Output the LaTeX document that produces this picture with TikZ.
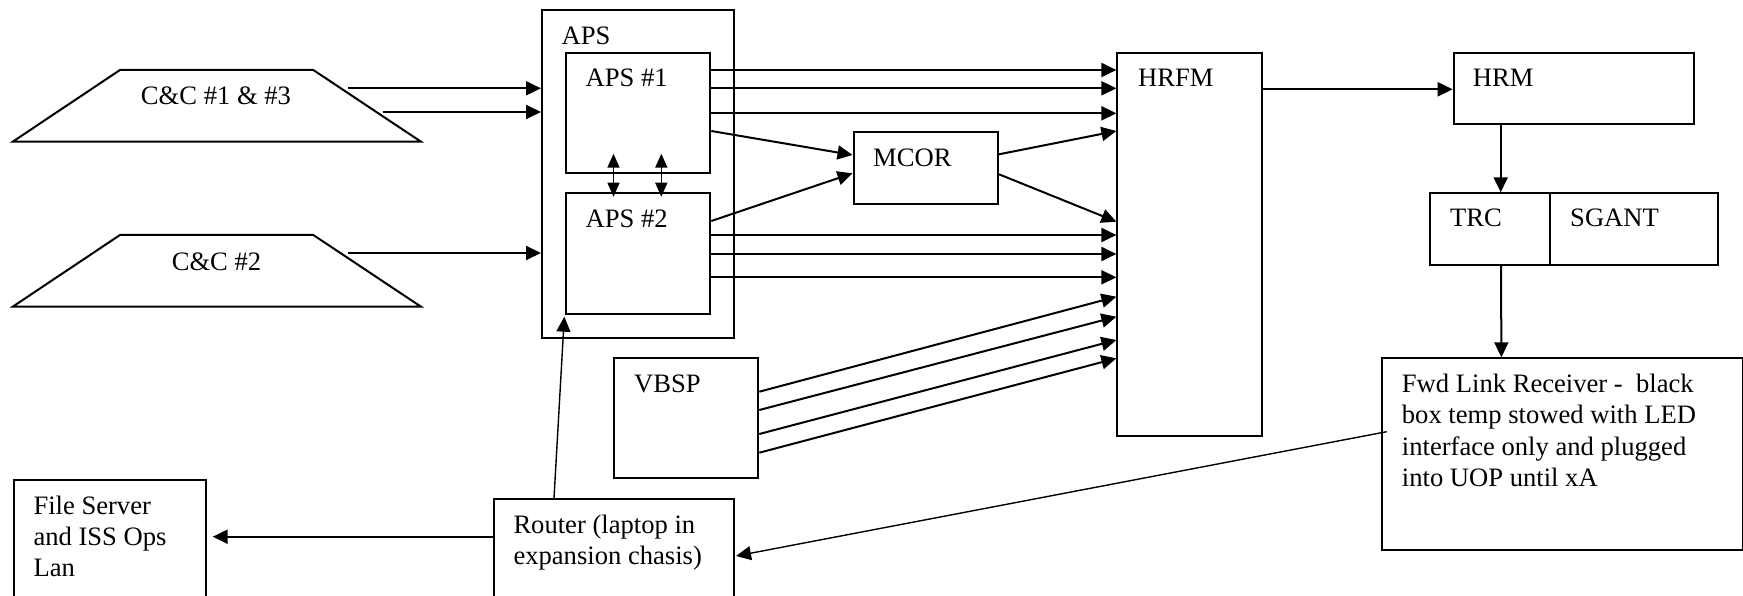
\documentclass[tikz,border=0pt]{standalone}
\usepackage{fontspec}
\setmainfont{Liberation Serif}
\usetikzlibrary{arrows.meta,calc}
\begin{document}
\begin{tikzpicture}[x=1pt,y=-1pt,
  box/.style={draw, line width=2pt, rectangle, inner sep=0pt, anchor=north west},
  txt/.style={inner sep=0pt, anchor=base west, font=\fontsize{26.6}{31.2}\selectfont},
  ctxt/.style={txt, anchor=base},
  arr/.style={line width=2pt, -{Triangle[length=15pt,width=14pt]}},
  thinarr/.style={line width=1.4pt, -{Triangle[length=15pt,width=14pt]}},
  dblarr/.style={line width=1.6pt, {Triangle[length=14pt,width=12pt]}-{Triangle[length=14pt,width=12pt]}},
  trap/.style={draw, line width=2pt, line join=miter}]
\useasboundingbox (0,0) rectangle (1743,596);
\clip (0,0) rectangle (1743,596);

% trapezoids
\draw[trap] (12.7,141.7) coordinate (cc1bl) -- (120,70) -- (313.3,70) -- (421,141.7) coordinate (cc1br) -- cycle;
\draw[trap] (12.7,306.7) coordinate (cc2bl) -- (120,235) -- (313.3,235) -- (421,306.7) coordinate (cc2br) -- cycle;
\node[ctxt] (cc1t) at (216,105) {C\&C \#1 \& \#3};
\node[ctxt] (cc2t) at (216.5,270) {C\&C \#2};
\coordinate (cc1a) at (348.3,88.3);
\coordinate (cc1b) at (383.3,112);
\coordinate (cc2a) at (348.3,253);

% boxes
\node[box, minimum width=192.3pt, minimum height=327.7pt] (apsout) at (541,9) {};
\node[box, minimum width=144.3pt, minimum height=120pt] (aps1) at (565,51.7) {};
\node[box, minimum width=144.3pt, minimum height=120.4pt] (aps2) at (565,192.3) {};
\node[box, minimum width=144.5pt, minimum height=72pt] (mcor) at (852.5,130.7) {};
\node[box, minimum width=144.6pt, minimum height=383.3pt] (hrfm) at (1116.4,51.7) {};
\node[box, minimum width=240pt, minimum height=71pt] (hrm) at (1452.7,51.7) {};
\node[box, minimum width=120.3pt, minimum height=71.7pt] (trc) at (1429,192.3) {};
\node[box, minimum width=167.4pt, minimum height=71.7pt] (sgant) at (1549.3,192.3) {};
\node[box, minimum width=143.9pt, minimum height=119.4pt] (vbsp) at (613.4,357.3) {};
\node[box, minimum width=361pt, minimum height=192pt] (fwd) at (1380.7,357.3) {};
\node[box, minimum width=240.6pt, minimum height=130pt] (router) at (492.7,498.3) {};
\node[box, minimum width=192pt, minimum height=150pt] (files) at (12.7,479.3) {};

% texts
\node[txt] (apst) at (561.4,45) {APS};
\node[txt] (aps1t) at (585.5,86.7) {APS \#1};
\node[txt] (aps2t) at (585.5,227.7) {APS \#2};
\node[txt] (mcort) at (873,166.7) {MCOR};
\node[txt] (hrfmt) at (1138,86.7) {HRFM};
\node[txt] (hrmt) at (1472.7,86.7) {HRM};
\node[txt] (trct) at (1450,226.7) {TRC};
\node[txt] (sgantt) at (1570,226.7) {SGANT};
\node[txt] (vbspt) at (634,392) {VBSP};
\node[txt] (fwdt) at (1401.7,392.7) {\begin{tabular}[t]{@{}l@{}}Fwd Link Receiver -\ \ black\\box temp stowed with LED\\interface only and plugged\\into UOP until xA\end{tabular}};
\node[txt] (routert) at (513.3,533.3) {\begin{tabular}[t]{@{}l@{}}Router (laptop in\\expansion chasis)\end{tabular}};
\node[txt] (filest) at (33.3,514.5) {\begin{tabular}[t]{@{}l@{}}File Server\\and ISS Ops\\Lan\end{tabular}};

% C&C connectors
\draw[arr] (cc1a) -- ($(apsout.north west)+(0,79.3)$);
\draw[arr] (cc1b) -- ($(apsout.north west)+(0,103)$);
\draw[arr] (cc2a) -- ($(apsout.north west)+(0,244)$);

% APS1 <-> APS2
\draw[dblarr] ($(aps1.south west)+(48.5,-20)$) -- ($(aps2.north west)+(48.5,4.4)$);
\draw[dblarr] ($(aps1.south west)+(96.3,-20)$) -- ($(aps2.north west)+(96.3,4.4)$);

% APS1 -> HRFM
\foreach \d in {18.3,36.6,61.6}
  \draw[arr] ($(aps1.north east)+(0,\d)$) -- ($(hrfm.north west)+(0,\d)$);
% APS1/APS2 -> MCOR
\draw[arr] ($(aps1.north east)+(0,79.3)$) -- ($(mcor.north west)+(0,24.3)$);
\draw[arr] ($(aps2.north east)+(0,28.7)$) -- ($(mcor.north west)+(0,42.6)$);
% MCOR -> HRFM
\draw[arr] ($(mcor.north east)+(0,23.6)$) -- ($(hrfm.north west)+(0,79.3)$);
\draw[arr] ($(mcor.north east)+(0,43.6)$) -- ($(hrfm.north west)+(0,170)$);
% APS2 -> HRFM
\draw[arr] ($(aps2.north east)+(0,42.7)$) -- ($(hrfm.north west)+(0,183.3)$);
\draw[arr] ($(aps2.north east)+(0,61.7)$) -- ($(hrfm.north west)+(0,202.3)$);
\draw[arr] ($(aps2.north east)+(0,85)$) -- ($(hrfm.north west)+(0,225.6)$);
% VBSP -> HRFM
\draw[arr] ($(vbsp.north east)+(0,34.4)$) -- ($(hrfm.north west)+(0,245)$);
\draw[arr] ($(vbsp.north east)+(0,52.7)$) -- ($(hrfm.north west)+(0,265)$);
\draw[arr] ($(vbsp.north east)+(0,76.7)$) -- ($(hrfm.north west)+(0,288.3)$);
\draw[arr] ($(vbsp.north east)+(0,95.4)$) -- ($(hrfm.north west)+(0,306.6)$);

% HRFM -> HRM -> TRC -> Fwd
\draw[arr] ($(hrfm.north east)+(0,37.6)$) -- ($(hrm.north west)+(0,37.6)$);
\draw[arr] ($(hrm.south west)+(48,0)$) -- ($(trc.north west)+(71.7,0)$);
\draw[arr] ($(trc.south west)+(72,0)$) -- ($(fwd.north west)+(120.7,0)$);

% Fwd -> Router, Router -> APS, Router -> Files
\draw[thinarr] ($(fwd.north west)+(6,74.4)$) -- ($(router.north east)+(0.7,57.7)$);
\draw[thinarr] ($(router.north west)+(61.3,0)$) -- ($(apsout.north west)+(23.3,307.7)$);
\draw[arr] ($(router.north west)+(0,38.4)$) -- ($(files.north east)+(6,57.4)$);
\end{tikzpicture}
\end{document}
